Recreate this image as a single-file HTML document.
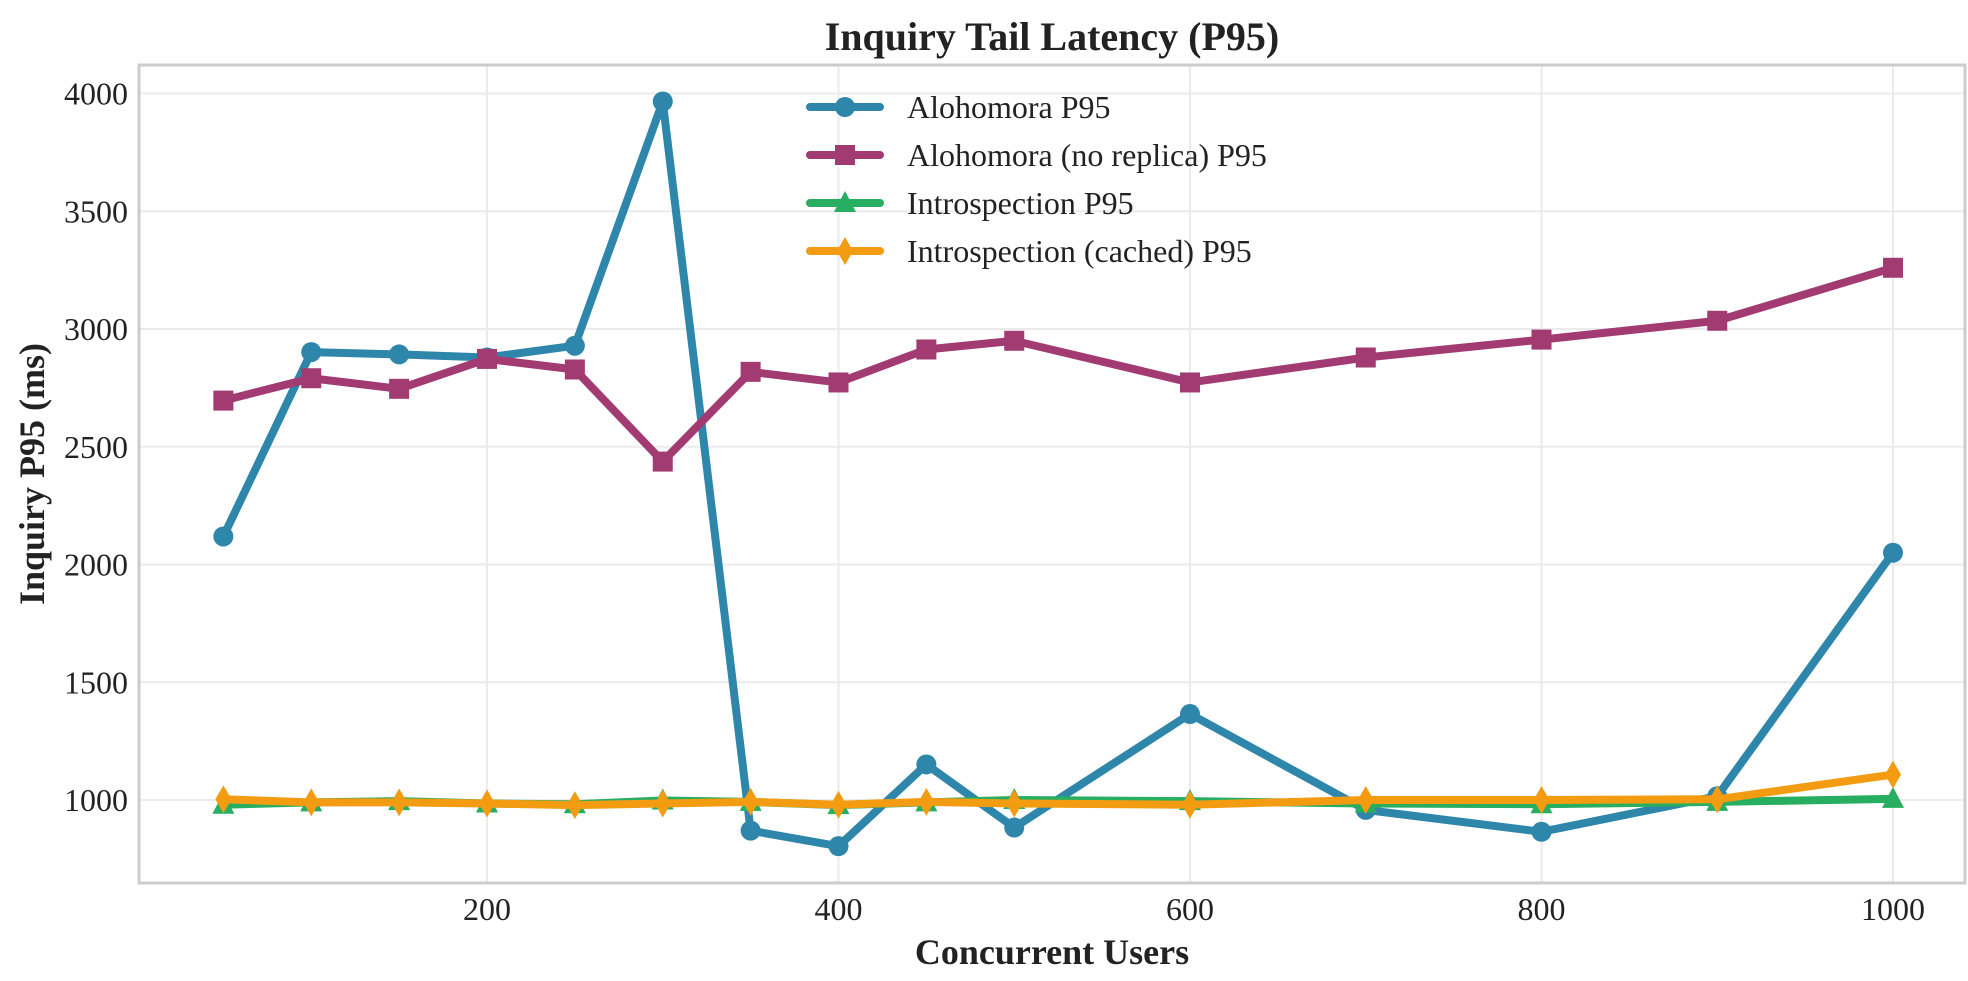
<!DOCTYPE html>
<html><head><meta charset="utf-8"><style>
body{margin:0;background:#fff;}
svg text{font-family:"Liberation Serif",serif;fill:#222;}
</style></head><body>
<svg id="chart" width="1968" height="976" viewBox="0 0 1968 976" xmlns="http://www.w3.org/2000/svg">
<text x="1052" y="50" text-anchor="middle" font-size="40" font-weight="bold">Inquiry Tail Latency (P95)</text>
<g id="grid"></g>
<rect x="139" y="65" width="1826" height="818" fill="none" stroke="#cccccc" stroke-width="3"/>
<g id="series"></g>
<g id="ticks"></g>
<text x="1052" y="964" text-anchor="middle" font-size="36" font-weight="bold">Concurrent Users</text>
<text transform="translate(44,474) rotate(-90)" text-anchor="middle" font-size="36" font-weight="bold">Inquiry P95 (ms)</text>
<g id="legend"></g>
</svg>
<script>
const users=[50,100,150,200,250,300,350,400,450,500,600,700,800,900,1000];
const alohomora=[2119,2902,2892,2879,2929,3966,870,804,1151,883,1365,958,865,1016,2050];
const noReplica=[2696,2791,2746,2873,2828,2437,2818,2773,2913,2950,2773,2879,2955,3035,3260];
const introspection=[980,990,995,985,982,998,992,978,990,1000,995,985,982,992,1005];
const cached=[1003,990,990,985,978,985,992,980,992,985,980,1000,1000,1003,1108];
const xTicks=[200,400,600,800,1000];
const yTicks=[1000,1500,2000,2500,3000,3500,4000];
const seriesNames=["Alohomora P95","Alohomora (no replica) P95","Introspection P95","Introspection (cached) P95"];

const NS="http://www.w3.org/2000/svg";
const X=v=>487+(v-200)*1.7575;
const Y=v=>800-(v-1000)*0.2355;
function mk(t,a,p){const e=document.createElementNS(NS,t);for(const k in a)e.setAttribute(k,a[k]);p.appendChild(e);return e;}
const grid=document.getElementById('grid'),ticks=document.getElementById('ticks');
xTicks.forEach(v=>{
 const l=mk('line',{x1:X(v),x2:X(v),y1:65,y2:883,stroke:'#ebebeb','stroke-width':2},grid);
 
 
 const t=mk('text',{x:X(v),y:920,'text-anchor':'middle','font-size':32},ticks);t.textContent=v;
 
 
});
yTicks.forEach(v=>{
 const l=mk('line',{x1:139,x2:1965,y1:Y(v),y2:Y(v),stroke:'#ebebeb','stroke-width':2},grid);
 
 
 const t=mk('text',{x:128,y:Y(v)+11,'text-anchor':'end','font-size':32},ticks);t.textContent=v;
 
 
});
const colors=['#2e86ab','#a23b72','#27ae60','#f39c12'];
const shapes=['circle','square','triangle','diamond'];
function marker(shape,x,y,c,p){
 if(shape==='circle')return mk('circle',{cx:x,cy:y,r:10,fill:c},p);
 if(shape==='square')return mk('rect',{x:x-10,y:y-10,width:20,height:20,fill:c},p);
 if(shape==='triangle')return mk('polygon',{points:`${x},${y-12} ${x+11},${y+9} ${x-11},${y+9}`,fill:c},p);
 return mk('polygon',{points:`${x},${y-14} ${x+8},${y} ${x},${y+14} ${x-8},${y}`,fill:c},p);
}
const sg=document.getElementById('series');
[alohomora,noReplica,introspection,cached].forEach((d,i)=>{
 const g=mk('g',{},sg);
 
 
 const pl=mk('polyline',{points:d.map((v,j)=>X(users[j])+','+Y(v)).join(' '),fill:'none',stroke:colors[i],'stroke-width':8,'stroke-linejoin':'round','stroke-linecap':'round'},g);
 
 
 d.forEach((v,j)=>{const m=marker(shapes[i],X(users[j]),Y(v),colors[i],g);
  
  });
});
const lg=document.getElementById('legend');
seriesNames.forEach((n,i)=>{
 const y=107+i*48;
 const g=mk('g',{},lg);
 
 
 mk('line',{x1:810,x2:880,y1:y,y2:y,stroke:colors[i],'stroke-width':8,'stroke-linecap':'round'},g);
 marker(shapes[i],845,y,colors[i],g);
 const t=mk('text',{x:907,y:y+11,'font-size':32},g);t.textContent=n;
});
</script>
</body></html>
